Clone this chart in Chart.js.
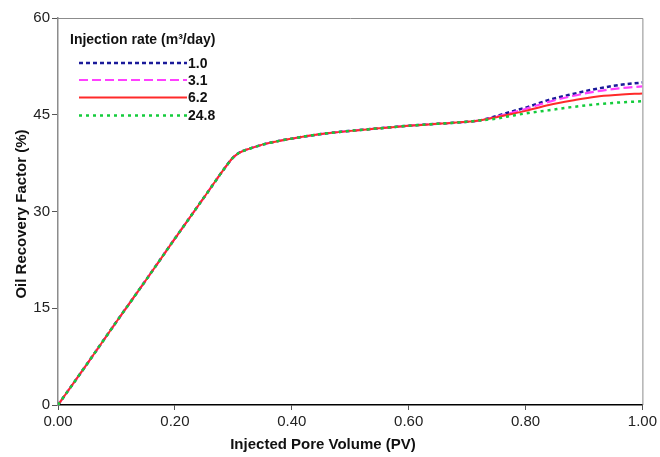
<!DOCTYPE html>
<html>
<head>
<meta charset="utf-8">
<title>Oil recovery vs injected pore volume</title>
<script src="https://cdn.jsdelivr.net/npm/chart.js@4.4.1/dist/chart.umd.min.js"></script>
<style>
  html, body { margin: 0; padding: 0; background: #fff; }
  canvas { display: block; }
</style>
</head>
<body>
<canvas id="recovery" width="660" height="457"></canvas>
<script>
// injected pore volume (PV) sample points
var pv = [0, 0.05, 0.10, 0.15, 0.20, 0.25, 0.29, 0.30, 0.31, 0.32, 0.34, 0.36, 0.40, 0.45,
          0.50, 0.55, 0.60, 0.65, 0.70, 0.72, 0.75, 0.78, 0.80, 0.84, 0.88, 0.92, 0.96, 1.00];

// all rates follow the same curve up to ~0.72 PV
var sharedRecovery = [0, 6.4, 12.9, 19.3, 25.8, 32.2, 37.3, 38.4, 39.1, 39.5, 40.1, 40.6, 41.3, 42.0,
                      42.5, 42.9, 43.3, 43.6, 43.9, 44.1];

// late-time recovery per injection rate (from 0.75 PV on)
var tail_1_0  = [44.8, 45.6, 46.1, 47.3, 48.2, 49.0, 49.6, 50.0];
var tail_3_1  = [44.7, 45.4, 45.9, 47.0, 47.9, 48.6, 49.1, 49.4];
var tail_6_2  = [44.6, 45.2, 45.6, 46.5, 47.2, 47.8, 48.1, 48.3];
var tail_24_8 = [44.4, 44.9, 45.2, 45.7, 46.2, 46.6, 46.9, 47.1];

var rateLabels = ['1.0', '3.1', '6.2', '24.8'];
var rateColors = ['#1a1a9a', '#ff40ff', '#ff2a2a', '#14cc3c'];
var rateDashes = [[4, 3], [9, 4], [], [3, 4]];
var rateWidths = [2.5, 2.2, 2, 2.5];

var xTicks = [0, 0.2, 0.4, 0.6, 0.8, 1.0];
var yTicks = [0, 15, 30, 45, 60];

var tails = [tail_1_0, tail_3_1, tail_6_2, tail_24_8];

function toPoints(ys) {
    return ys.map(function(y, i) { return { x: pv[i], y: y }; });
}

var datasets = rateLabels.map(function(label, i) {
    return {
        label: label,
        data: toPoints(sharedRecovery.concat(tails[i])),
        borderColor: rateColors[i],
        backgroundColor: rateColors[i],
        borderDash: rateDashes[i],
        borderWidth: rateWidths[i],
        pointRadius: 0,
        fill: false,
        cubicInterpolationMode: 'monotone',
        // higher rates drawn on top, like the original plot
        order: rateLabels.length - i
    };
});

var FONT = '"Liberation Sans", Arial, sans-serif';

// frame, legend block and axis titles
var decorations = {
    id: 'decorations',
    afterDraw: function(chart) {
        var ctx = chart.ctx;
        var a = chart.chartArea;
        ctx.save();

        ctx.strokeStyle = '#8c8c8c';
        ctx.lineWidth = 1;
        ctx.beginPath();
        ctx.moveTo(a.left, a.top + 0.5);
        ctx.lineTo(a.right + 0.5, a.top + 0.5);
        ctx.lineTo(a.right + 0.5, a.bottom);
        ctx.stroke();

        ctx.fillStyle = '#111';
        ctx.font = 'bold 14px ' + FONT;
        ctx.textAlign = 'left';
        ctx.textBaseline = 'alphabetic';
        ctx.fillText('Injection rate (m\u00b3/day)', 70, 44);

        var rowY = [63, 80, 97.5, 115.5];
        rateLabels.forEach(function(label, i) {
            ctx.strokeStyle = rateColors[i];
            ctx.lineWidth = rateWidths[i];
            ctx.setLineDash(rateDashes[i]);
            ctx.beginPath();
            ctx.moveTo(79, rowY[i]);
            ctx.lineTo(187, rowY[i]);
            ctx.stroke();
            ctx.setLineDash([]);
            ctx.textBaseline = 'middle';
            ctx.fillText(label, 188, rowY[i] + 1);
        });

        ctx.font = 'bold 15px ' + FONT;
        ctx.textAlign = 'center';
        ctx.textBaseline = 'alphabetic';
        ctx.fillText('Injected Pore Volume (PV)', 323, 449);

        ctx.translate(26, 214);
        ctx.rotate(-Math.PI / 2);
        ctx.fillText('Oil Recovery Factor (%)', 0, 0);

        ctx.restore();
    }
};

new Chart(document.getElementById('recovery'), {
    type: 'line',
    data: { datasets: datasets },
    plugins: [decorations],
    options: {
        responsive: false,
        animation: false,
        devicePixelRatio: 1,
        layout: { padding: { top: 18, right: 17, left: 0, bottom: 0 } },
        plugins: {
            legend: { display: false },
            tooltip: { enabled: false }
        },
        scales: {
            x: {
                type: 'linear',
                min: 0,
                max: 1,
                afterFit: function(scale) { scale.height = 52; },
                afterBuildTicks: function(scale) {
                    scale.ticks = xTicks.map(function(v) { return { value: v }; });
                },
                border: { display: true, color: '#000', width: 1.5 },
                grid: { drawOnChartArea: false, drawTicks: true, tickLength: 5, color: '#555' },
                ticks: {
                    padding: 3,
                    color: '#222',
                    font: { family: FONT, size: 15 },
                    callback: function(v) { return v.toFixed(2); }
                }
            },
            y: {
                min: 0,
                max: 60,
                afterFit: function(scale) { scale.width = 58; },
                afterBuildTicks: function(scale) {
                    scale.ticks = yTicks.map(function(v) { return { value: v }; });
                },
                border: { display: true, color: '#8c8c8c', width: 1.5 },
                grid: { drawOnChartArea: false, drawTicks: true, tickLength: 6, color: '#555' },
                ticks: {
                    padding: 2,
                    color: '#222',
                    font: { family: FONT, size: 15 }
                }
            }
        }
    }
});
</script>
</body>
</html>
